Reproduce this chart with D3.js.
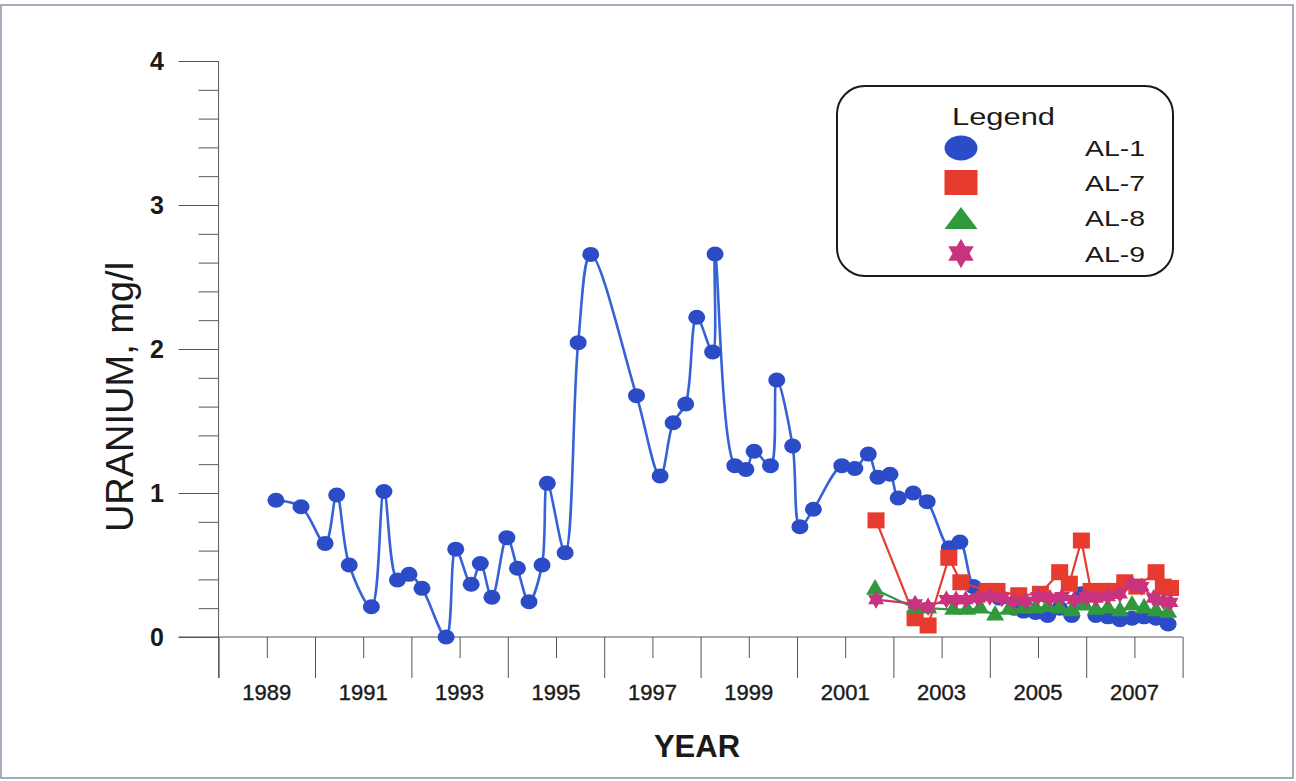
<!DOCTYPE html>
<html><head><meta charset="utf-8">
<script src="https://cdn.jsdelivr.net/npm/d3@7"></script>
<style>
body{margin:0;background:#fff}
svg{display:block}
text{font-family:"Liberation Sans",Arial,Helvetica,sans-serif}
</style>
</head><body>
<svg id="chart" width="1296" height="781"></svg>
<script>
// ---- data ----
const al1Years = [1989.19,1989.71,1990.21,1990.45,1990.71,1991.17,1991.43,1991.71,1991.95,1992.22,1992.72,1992.92,1993.24,1993.43,1993.67,1993.98,1994.2,1994.44,1994.71,1994.82,1995.19,1995.46,1995.72,1996.67,1997.16,1997.43,1997.69,1997.92,1998.25,1998.3,1998.71,1998.94,1999.11,1999.45,1999.58,1999.91,2000.06,2000.34,2000.93,2001.2,2001.48,2001.68,2001.93,2002.1,2002.41,2002.7,2003.16,2003.38,2003.66,2003.9,2004.2,2004.5,2004.7,2004.95,2005.2,2005.45,2005.7,2005.9,2006.2,2006.45,2006.7,2006.95,2007.2,2007.45,2007.7];
const al1Values = [0.95,0.905,0.65,0.986,0.5,0.21,1.01,0.396,0.435,0.338,0.0,0.61,0.366,0.51,0.276,0.69,0.477,0.245,0.5,1.067,0.585,2.044,2.657,1.676,1.118,1.488,1.618,2.22,1.98,2.66,1.19,1.164,1.29,1.19,1.785,1.326,0.766,0.887,1.19,1.17,1.27,1.11,1.13,0.965,1.0,0.94,0.62,0.66,0.35,0.3,0.27,0.2,0.18,0.17,0.15,0.2,0.15,0.3,0.15,0.14,0.12,0.13,0.14,0.13,0.09];

const al7Years = [2001.64,2002.45,2002.72,2003.15,2003.4,2003.95,2004.15,2004.6,2005.05,2005.45,2005.65,2005.9,2006.1,2006.35,2006.55,2006.8,2007.05,2007.45,2007.6,2007.75];
const al7Values = [0.81,0.13,0.08,0.55,0.38,0.32,0.32,0.29,0.30,0.45,0.37,0.67,0.32,0.32,0.32,0.38,0.35,0.45,0.35,0.34];

const al8Years = [2001.62,2002.45,2002.72,2003.24,2003.53,2003.8,2004.11,2004.4,2004.7,2004.95,2005.2,2005.45,2005.7,2005.95,2006.2,2006.45,2006.7,2006.95,2007.2,2007.45,2007.7];
const al8Values = [0.33,0.2,0.2,0.19,0.19,0.2,0.15,0.19,0.2,0.2,0.21,0.2,0.18,0.22,0.19,0.2,0.18,0.22,0.2,0.18,0.17];

const al9Years = [2001.64,2002.45,2002.72,2003.1,2003.3,2003.5,2003.75,2004.0,2004.25,2004.5,2004.75,2005.0,2005.25,2005.5,2005.75,2006.0,2006.2,2006.45,2006.7,2006.95,2007.15,2007.4,2007.6,2007.75];
const al9Values = [0.26,0.23,0.21,0.26,0.26,0.26,0.27,0.28,0.27,0.25,0.25,0.28,0.27,0.28,0.26,0.28,0.27,0.28,0.3,0.37,0.35,0.27,0.25,0.24];

const seriesNames = ["AL-1","AL-7","AL-8","AL-9"];
const yTickLabels = [0,1,2,3,4];
const xTickYears = [1989,1991,1993,1995,1997,1999,2001,2003,2005,2007];

// ---- setup ----
const svg = d3.select("#chart");
const x = d3.scaleLinear().domain([1988, 2008]).range([218.6, 1182.6]);
const y = d3.scaleLinear().domain([0, 4]).range([637, 61]);

// outer frame
svg.append("rect").attr("x",1).attr("y",5).attr("width",1292).attr("height",773)
  .attr("fill","#fff").attr("stroke","#8a90a6").attr("stroke-width",1.5);

const axisColor = "#555";

// Y axis: major ticks
const gy = svg.append("g").attr("transform","translate(218.6,0)")
  .call(d3.axisLeft(y).tickValues(yTickLabels).tickSize(40).tickFormat(""));
gy.select(".domain").remove();
gy.selectAll("line").attr("stroke",axisColor);
const yMinor = d3.range(0, 4.0001, 0.2).filter(v => Math.abs(v - Math.round(v)) > 1e-6);
const gy2 = svg.append("g").attr("transform","translate(218.6,0)")
  .call(d3.axisLeft(y).tickValues(yMinor).tickSize(20).tickFormat(""));
gy2.select(".domain").remove();
gy2.selectAll("line").attr("stroke",axisColor);
svg.append("line").attr("x1",x(1988)).attr("x2",x(1988)).attr("y1",y(4)).attr("y2",y(0)+41)
  .attr("stroke",axisColor);
svg.append("g").selectAll("text").data(yTickLabels).join("text")
  .attr("x",157).attr("y",d => y(d)+9).attr("text-anchor","middle")
  .attr("font-size",25).attr("font-weight","bold").attr("fill","#1a1a1a")
  .text(d => d);

// X axis
const xMajor = d3.range(1988, 2009, 2);
const xMinor = d3.range(1989, 2008, 2);
const gx = svg.append("g").attr("transform",`translate(0,${y(0)})`)
  .call(d3.axisBottom(x).tickValues(xMajor).tickSize(41).tickFormat(""));
gx.select(".domain").remove();
gx.selectAll("line").attr("stroke",axisColor);
const gx2 = svg.append("g").attr("transform",`translate(0,${y(0)})`)
  .call(d3.axisBottom(x).tickValues(xMinor).tickSize(21).tickFormat(""));
gx2.select(".domain").remove();
gx2.selectAll("line").attr("stroke",axisColor);
svg.append("line").attr("x1",178.6).attr("x2",x(2008)).attr("y1",y(0)).attr("y2",y(0))
  .attr("stroke",axisColor);
svg.append("g").selectAll("text").data(xTickYears).join("text")
  .attr("x",d => x(d)).attr("y",700).attr("text-anchor","middle")
  .attr("font-size",22).attr("fill","#1a1a1a").attr("stroke","#1a1a1a").attr("stroke-width",0.4)
  .text(d => d);

// axis titles
svg.append("text").attr("x",697).attr("y",757).attr("text-anchor","middle")
  .attr("font-size",31).attr("font-weight","bold").attr("fill","#1a1a1a").text("YEAR");
svg.append("text").attr("transform","translate(133,397) rotate(-90)").attr("text-anchor","middle")
  .attr("font-size",38).attr("fill","#1a1a1a").text("URANIUM, mg/l");

// custom 6-point star
const star6 = {
  draw(ctx, size) {
    const R = Math.sqrt(size) * 0.62, r = R * 0.58;
    for (let i = 0; i < 12; i++) {
      const a = -Math.PI/2 + i*Math.PI/6;
      const rad = i % 2 === 0 ? R : r;
      const px = rad*Math.cos(a), py = rad*Math.sin(a);
      if (i === 0) ctx.moveTo(px, py); else ctx.lineTo(px, py);
    }
    ctx.closePath();
  }
};

const colors = {al1:"#2b4cc6", al1Line:"#3563d6", al7:"#e63b2e", al8:"#2f9a3c", al9:"#c8337e"};

function pts(ys, vs){ return ys.map((yr,i) => [yr, vs[i]]); }
const d1 = pts(al1Years, al1Values), d7 = pts(al7Years, al7Values),
      d8 = pts(al8Years, al8Values), d9 = pts(al9Years, al9Values);

// AL-1
svg.append("path").datum(d1)
  .attr("d", d3.line().x(d=>x(d[0])).y(d=>y(d[1])).curve(d3.curveCatmullRom.alpha(0.5)))
  .attr("fill","none").attr("stroke",colors.al1Line).attr("stroke-width",2.6);
svg.append("g").selectAll("ellipse").data(d1).join("ellipse")
  .attr("cx",d=>x(d[0])).attr("cy",d=>y(d[1])).attr("rx",8.5).attr("ry",7.5)
  .attr("fill",colors.al1);

// AL-7
svg.append("path").datum(d7)
  .attr("d", d3.line().x(d=>x(d[0])).y(d=>y(d[1])))
  .attr("fill","none").attr("stroke",colors.al7).attr("stroke-width",2.2);
svg.append("g").selectAll("rect").data(d7).join("rect")
  .attr("x",d=>x(d[0])-8.5).attr("y",d=>y(d[1])-8).attr("width",17).attr("height",16)
  .attr("fill",colors.al7);

// AL-8
svg.append("path").datum(d8)
  .attr("d", d3.line().x(d=>x(d[0])).y(d=>y(d[1])))
  .attr("fill","none").attr("stroke",colors.al8).attr("stroke-width",2.2);
svg.append("g").selectAll("path").data(d8).join("path")
  .attr("transform",d=>`translate(${x(d[0])},${y(d[1])})`)
  .attr("d", d3.symbol().type(d3.symbolTriangle).size(140)())
  .attr("fill",colors.al8);

// AL-9
svg.append("path").datum(d9)
  .attr("d", d3.line().x(d=>x(d[0])).y(d=>y(d[1])))
  .attr("fill","none").attr("stroke",colors.al9).attr("stroke-width",2.2);
svg.append("g").selectAll("path").data(d9).join("path")
  .attr("transform",d=>`translate(${x(d[0])},${y(d[1])})`)
  .attr("d", d3.symbol().type(star6).size(220)())
  .attr("fill",colors.al9);

// Legend
const lg = svg.append("g");
lg.append("rect").attr("x",837).attr("y",86).attr("width",336).attr("height",190)
  .attr("rx",28).attr("ry",28).attr("fill","#fff").attr("stroke","#1a1a1a").attr("stroke-width",2);
lg.append("text").attr("x",952).attr("y",125)
  .attr("font-size",23).attr("fill","#1a1a1a")
  .attr("textLength",103).attr("lengthAdjust","spacingAndGlyphs").text("Legend");
const rowY = [148, 182.5, 218, 253.5];
lg.append("ellipse").attr("cx",961).attr("cy",rowY[0]).attr("rx",16.5).attr("ry",12.5).attr("fill",colors.al1);
lg.append("rect").attr("x",944.5).attr("y",rowY[1]-12.5).attr("width",33).attr("height",25).attr("fill",colors.al7);
lg.append("path").attr("d",`M944.5,${rowY[2]+11} L961,${rowY[2]-11} L977.5,${rowY[2]+11} Z`).attr("fill",colors.al8);
lg.append("path").attr("transform",`translate(961,${rowY[3]})`)
  .attr("d", d3.symbol().type(star6).size(560)()).attr("fill",colors.al9);
lg.selectAll("text.lab").data(seriesNames).join("text").attr("class","lab")
  .attr("x",1085).attr("y",(d,i)=>rowY[i]+8).attr("font-size",22).attr("fill","#1a1a1a")
  .attr("textLength",60).attr("lengthAdjust","spacingAndGlyphs").text(d=>d);
</script>
</body></html>
